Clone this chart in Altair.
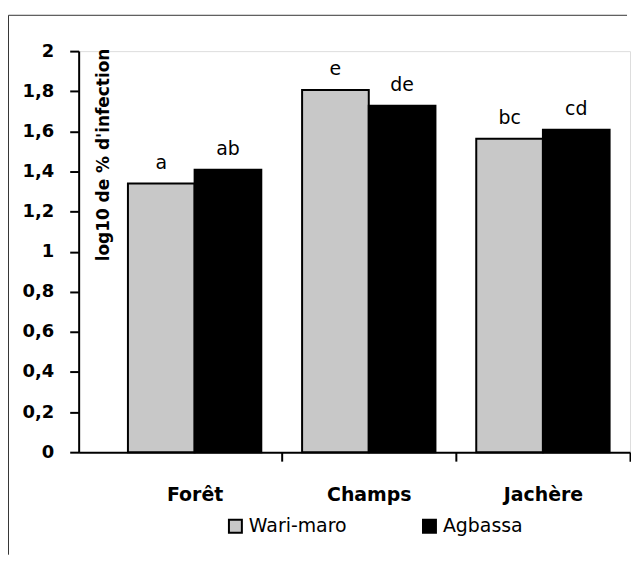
import altair as alt
import pandas as pd

categories = ["Forêt", "Champs", "Jachère"]
series = ["Wari-maro", "Agbassa"]
wari_values = [1.34, 1.806, 1.563]
agbassa_values = [1.409, 1.727, 1.608]
wari_letters = ["a", "e", "bc"]
agbassa_letters = ["ab", "de", "cd"]
y_ticks = [0, 0.2, 0.4, 0.6, 0.8, 1.0, 1.2, 1.4, 1.6, 1.8, 2.0]

rows = []
for i, c in enumerate(categories):
    rows.append({"site": c, "variete": series[0], "val": wari_values[i], "lab": wari_letters[i]})
    rows.append({"site": c, "variete": series[1], "val": agbassa_values[i], "lab": agbassa_letters[i]})
df = pd.DataFrame(rows)

FONT = "DejaVu Sans"
W, H = 554, 403

x_enc = alt.X(
    "site:N",
    sort=categories,
    scale=alt.Scale(paddingInner=0, paddingOuter=0.0829, align=1),
    axis=alt.Axis(
        title=None,
        labelAngle=0,
        labelFont=FONT,
        labelFontSize=19,
        labelFontWeight="bold",
        labelColor="black",
        labelPadding=25,
        tickBand="extent",
        tickSize=9,
        tickWidth=2,
        tickColor="black",
        tickOpacity={"condition": {"test": "datum.extra", "value": 0}, "value": 1},
        domainColor="black",
        domainWidth=2,
    ),
)
xo_enc = alt.XOffset(
    "variete:N",
    sort=series,
    scale=alt.Scale(paddingInner=0, paddingOuter=0.306),
)
y_enc = alt.Y(
    "val:Q",
    scale=alt.Scale(domain=[0, 2], nice=False, zero=True),
    axis=alt.Axis(
        title="log10 de % d'infection",
        titleFont=FONT,
        titleFontSize=17,
        titleFontWeight="bold",
        titleColor="black",
        titleAngle=270,
        titleAlign="right",
        titleBaseline="middle",
        titleX=25,
        titleY=-3,
        values=y_ticks,
        labelExpr="replace(format(datum.value, '.1~f'), '.', ',')",
        labelFont=FONT,
        labelFontSize=18,
        labelFontWeight="bold",
        labelColor="black",
        labelPadding=16,
        tickSize=9,
        tickWidth=2,
        tickColor="black",
        domainColor="black",
        domainWidth=2,
        grid=False,
    ),
)

bars = alt.Chart(df).mark_bar(stroke="black", strokeWidth=2).encode(
    x=x_enc,
    xOffset=xo_enc,
    y=y_enc,
    fill=alt.Fill(
        "variete:N",
        sort=series,
        scale=alt.Scale(domain=series, range=["#c8c8c8", "#000000"]),
        legend=alt.Legend(
            title=None,
            orient="none",
            legendX=148,
            legendY=468,
            direction="horizontal",
            padding=0,
            symbolType="square",
            symbolSize=169,
            symbolStrokeColor="black",
            symbolStrokeWidth=2,
            labelFont=FONT,
            labelFontSize=19,
            labelColor="black",
            labelOffset=4,
            columnPadding=72,
        ),
    ),
)

texts = alt.Chart(df).mark_text(
    font=FONT, fontSize=19, color="black", baseline="alphabetic", dy=-15
).encode(
    x=alt.X("site:N", sort=categories),
    xOffset=alt.XOffset("variete:N", sort=series),
    y=alt.Y("val:Q"),
    text="lab:N",
)

frame_df = pd.DataFrame({"k": [0]})
frame_left = alt.Chart(frame_df).mark_rule(color="#333333", strokeWidth=1).encode(
    x=alt.value(-70.5), y=alt.value(-36), y2=alt.value(506)
)
frame_top = alt.Chart(frame_df).mark_rule(color="#333333", strokeWidth=1).encode(
    x=alt.value(-70.5), x2=alt.value(551), y=alt.value(-36)
)

chart = alt.layer(bars, texts, frame_left, frame_top).properties(
    width=W, height=H, padding={"left": 0, "top": 5, "right": 0, "bottom": 0}
).configure_view(stroke=None).configure(background="white")

chart.save("out.html", embed_options={"renderer": "svg", "actions": False})
